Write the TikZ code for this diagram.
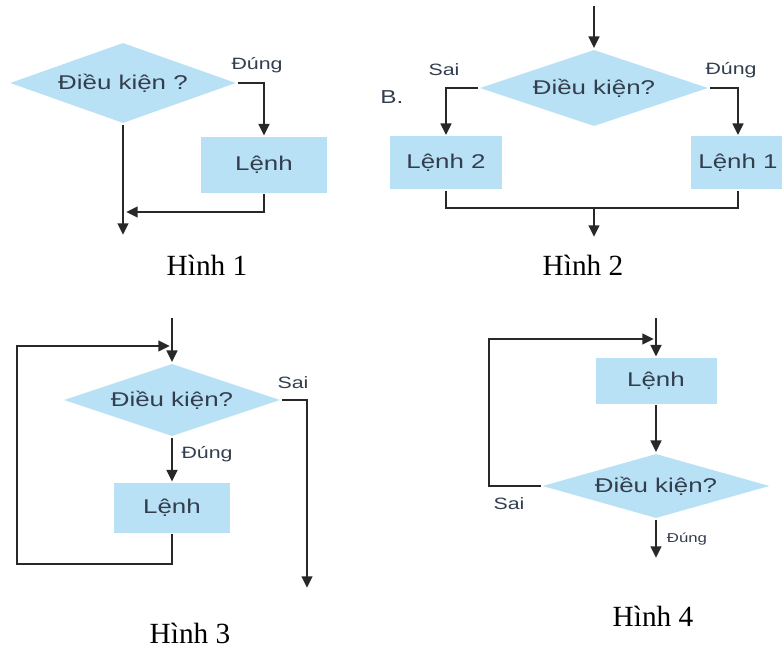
\documentclass[tikz,border=0pt]{standalone}
\usepackage{fontspec}
\setmainfont{Liberation Serif}
\newfontfamily\lblfont[FakeStretch=1.3]{Liberation Sans}
\usepackage{tikz}
\usetikzlibrary{shapes.geometric}
\usetikzlibrary{arrows.meta}

\definecolor{boxblue}{RGB}{185,225,245}
\definecolor{txtgray}{RGB}{50,62,78}
\definecolor{linegray}{RGB}{40,40,40}

\tikzset{
  cond/.style={diamond, fill=boxblue, inner sep=0pt, aspect=3,
    text=txtgray, font=\lblfont\fontsize{17}{19}\selectfont},
  cmd/.style={rectangle, fill=boxblue, inner sep=0pt,
    text=txtgray, font=\lblfont\fontsize{17}{19}\selectfont},
  lbl/.style={text=txtgray, font=\lblfont\fontsize{14}{16}\selectfont},
  hinh/.style={font=\fontsize{25}{28}\selectfont}
}

\begin{document}
\begin{tikzpicture}[x=0.03cm, y=-0.03cm, line width=2.4pt, draw=linegray,
    >={Triangle[length=10pt,width=9pt]}]
  \useasboundingbox (0,0) rectangle (782,652);

  % Hinh 1
  \node[cond, minimum width=6.8cm, minimum height=2.43cm] (c1) at (123,83) {Điều kiện ?};
  \node[cmd, minimum width=3.75cm, minimum height=1.68cm] (l1) at (264,165) {Lệnh};
  \coordinate (e1) at (123,235);
  \coordinate (j1) at (126,212);
  \draw[->] (c1.east) -| (l1.north);
  \draw[->] (c1.south) -- (e1);
  \draw[->] (l1.south) |- (j1);
  \node[lbl] (d1) at (257,65) {Đúng};
  \node[hinh] (h1) at (207,265) {Hình 1};

  % Hinh 2
  \node[cond, minimum width=6.87cm, minimum height=2.31cm] (c2) at (594,88) {Điều kiện?};
  \node[cmd, minimum width=3.36cm, minimum height=1.59cm] (l22) at (446,163) {Lệnh 2};
  \node[cmd, minimum width=2.8cm, minimum height=1.59cm] (l21) at (738,163) {Lệnh 1};
  \coordinate (s2) at (594,6);
  \coordinate (j2) at (594,208);
  \coordinate (e2) at (594,237);
  \draw[->] (s2) -- (c2.north);
  \draw[->] (c2.west) -| (l22.north);
  \draw[->] (c2.east) -| (l21.north);
  \draw (l22.south) |- (j2) -| (l21.south);
  \draw[->] (j2) -- (e2);
  \node[lbl] (s2l) at (444,70) {Sai};
  \node[lbl] (d2) at (731,70) {Đúng};
  \node[lbl, font=\lblfont\fontsize{16}{18}\selectfont] (b2) at (392,97) {B.};
  \node[hinh] (h2) at (583,265) {Hình 2};

  % Hinh 3
  \node[cond, minimum width=6.51cm, minimum height=2.19cm] (c3) at (172,400) {Điều kiện?};
  \node[cmd, minimum width=3.45cm, minimum height=1.5cm] (l3) at (172,508) {Lệnh};
  \coordinate (s3) at (172,318);
  \coordinate (b3) at (172,564);
  \coordinate (lp3) at (17,346);
  \coordinate (m3) at (170,346);
  \coordinate (e3) at (307,588);
  \draw[->] (s3) -- (c3.north);
  \draw[->] (c3.south) -- (l3.north);
  \draw[->] (l3.south) -- (b3) -| (lp3) -- (m3);
  \draw[->] (c3.east) -| (e3);
  \node[lbl] (s3l) at (293,383) {Sai};
  \node[lbl] (d3) at (207,454) {Đúng};
  \node[hinh] (h3) at (190,633) {Hình 3};

  % Hinh 4
  \node[cmd, minimum width=3.63cm, minimum height=1.38cm] (l4) at (656,381) {Lệnh};
  \node[cond, minimum width=6.84cm, minimum height=1.95cm] (c4) at (656,486) {Điều kiện?};
  \coordinate (s4) at (656,318);
  \coordinate (lp4) at (489,339);
  \coordinate (m4) at (654,339);
  \coordinate (e4) at (656,558);
  \draw[->] (s4) -- (l4.north);
  \draw[->] (l4.south) -- (c4.north);
  \draw[->] (c4.west) -| (lp4) -- (m4);
  \draw[->] (c4.south) -- (e4);
  \node[lbl] (s4l) at (509,504) {Sai};
  \node[lbl, font=\lblfont\fontsize{11}{13}\selectfont] (d4) at (687,539) {Đúng};
  \node[hinh] (h4) at (653,616) {Hình 4};
\end{tikzpicture}
\end{document}
